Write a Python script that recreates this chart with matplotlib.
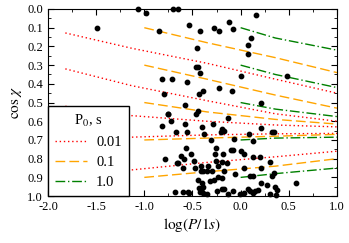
import matplotlib
matplotlib.use("Agg")
import matplotlib.pyplot as plt
from matplotlib.ticker import MultipleLocator

plt.rcParams['font.family'] = ['Liberation Serif', 'DejaVu Serif']
plt.rcParams['mathtext.fontset'] = 'stix'

# evolution tracks, log(P/1s) -> cos chi
red_x = [-1.82, -1.13, -0.35, 0.36, 1.0]
red_y = [[0.128, 0.21, 0.29, 0.375, 0.45],
         [0.32, 0.41, 0.49, 0.56, 0.60],
         [0.52, 0.57, 0.60, 0.62, 0.63],
         [0.70, 0.685, 0.673, 0.667, 0.665],
         [0.89, 0.86, 0.82, 0.79, 0.76]]
orange_x = [-1.0, -0.35, 0.36, 1.0]
orange_y = [[0.10, 0.18, 0.26, 0.34],
            [0.30, 0.375, 0.46, 0.53],
            [0.50, 0.55, 0.59, 0.615],
            [0.70, 0.69, 0.68, 0.67],
            [0.90, 0.87, 0.84, 0.80]]
green_x = [0.0, 0.36, 1.0]
green_y = [[0.10, 0.155, 0.22],
           [0.30, 0.35, 0.42],
           [0.50, 0.535, 0.575],
           [0.70, 0.69, 0.685],
           [0.90, 0.88, 0.85]]

# observed pulsars
logP = [-1.065, -0.98, -1.49, -0.70, -0.85, -0.82, -0.80, -0.75, -0.65, -0.535,
        -0.42, -0.45, -0.46, -0.44, -0.42, -0.71, -0.56, -0.43, -0.39, -0.28,
        -0.22, -0.12, -0.08, 0.16, 0.11, 0.08, 0.08, 0.0, 0.48, -0.22,
        -0.09, 0.21, -0.58, -0.44, -0.46, -0.13, -0.75, -0.72, -0.82, -0.58,
        -0.40, -0.67, -0.56, -0.38, -0.57, -0.62, -0.59, -0.515, -0.785, -0.66,
        -0.60, -0.48, -0.41, -0.47, -0.41, -0.44, -0.43, -0.40, -0.42, -0.60,
        -0.55, -0.535, -0.39, -0.29, -0.19, -0.17, -0.20, 0.09, 0.21, 0.35,
        -0.07, 0.13, -0.26, -0.10, -0.08, 0.0, -0.27, -0.18, 0.03, 0.13,
        0.20, -0.26, -0.19, -0.14, -0.34, -0.23, -0.39, -0.35, -0.30, -0.17,
        0.03, 0.21, 0.10, 0.13, -0.23, -0.19, -0.28, -0.32, -0.40, -0.39,
        -0.19, -0.17, -0.25, -0.08, 0.08, 0.10, 0.13, 0.15, 0.18, -0.01,
        0.03, -0.13, -0.35, 0.30, 0.27, 0.21, 0.33, 0.33, 0.305, 0.35,
        0.36, 0.38, 0.37, 0.575, -0.65, -0.68, -0.31, -0.06]
cosX = [0.0, 0.02, 0.10, 0.0, 0.12, 0.375, 0.455, 0.56, 0.0, 0.085,
        0.12, 0.21, 0.31, 0.31, 0.34, 0.375, 0.39, 0.455, 0.44, 0.10,
        0.12, 0.07, 0.105, 0.03, 0.155, 0.19, 0.24, 0.36, 0.36, 0.42,
        0.44, 0.50, 0.515, 0.545, 0.56, 0.585, 0.56, 0.60, 0.625, 0.615,
        0.63, 0.655, 0.655, 0.67, 0.745, 0.785, 0.80, 0.775, 0.80, 0.825,
        0.85, 0.815, 0.84, 0.85, 0.865, 0.915, 0.955, 0.955, 0.98, 0.98,
        0.98, 0.985, 0.985, 0.615, 0.64, 0.65, 0.655, 0.67, 0.635, 0.66,
        0.695, 0.705, 0.745, 0.755, 0.755, 0.76, 0.775, 0.775, 0.775, 0.79,
        0.79, 0.815, 0.82, 0.825, 0.84, 0.84, 0.865, 0.865, 0.865, 0.865,
        0.85, 0.85, 0.89, 0.89, 0.90, 0.905, 0.915, 0.92, 0.93, 0.95,
        0.96, 0.96, 0.975, 0.975, 0.96, 0.975, 0.985, 0.975, 0.97, 0.99,
        0.985, 0.99, 0.99, 0.99, 0.94, 0.93, 0.89, 0.655, 0.82, 0.875,
        0.95, 0.97, 0.995, 0.93, 0.825, 0.98, 0.70, 0.88]

P0_labels = ['0.01', '0.1', '1.0']

fig = plt.figure(figsize=(3.49, 2.43), dpi=100)
ax = fig.add_axes([0.1375, 0.193, 0.828, 0.77])

for i, ys in enumerate(red_y):
    ax.plot(red_x, ys, color='red', linestyle=(0, (1, 2)), linewidth=1,
            label=P0_labels[0] if i == 0 else None)
for i, ys in enumerate(orange_y):
    ax.plot(orange_x, ys, color='orange', linestyle=(0, (7, 3)), linewidth=1,
            label=P0_labels[1] if i == 0 else None)
for i, ys in enumerate(green_y):
    ax.plot(green_x, ys, color='green', linestyle=(0, (7, 2, 1, 2)), linewidth=1,
            label=P0_labels[2] if i == 0 else None)

ax.scatter(logP, cosX, s=10, color='black', zorder=3, clip_on=False)

ax.set_xlim(-2.0, 1.0)
ax.set_ylim(1.0, 0.0)
ax.xaxis.set_major_locator(MultipleLocator(0.5))
ax.xaxis.set_minor_locator(MultipleLocator(0.25))
ax.yaxis.set_major_locator(MultipleLocator(0.1))
ax.yaxis.set_minor_locator(MultipleLocator(0.05))
ax.xaxis.set_major_formatter(plt.FormatStrFormatter('%.1f'))
ax.yaxis.set_major_formatter(plt.FormatStrFormatter('%.1f'))
ax.tick_params(which='both', direction='in', top=True, right=True, labelsize=9)
ax.tick_params(which='major', length=4)
ax.tick_params(which='minor', length=2)
ax.set_xlabel(r'$\log(P/1s)$', fontsize=11, labelpad=2)
ax.set_ylabel(r'$\cos\,\chi$', fontsize=11, labelpad=2)

leg = ax.legend(title=r'P$_0$, s', loc='lower left', bbox_to_anchor=(0, 0),
                fontsize=10.5, title_fontsize=10.5, fancybox=False, framealpha=1,
                edgecolor='black', handlelength=2.2, handletextpad=0.6,
                borderaxespad=0, labelspacing=0.45, borderpad=0.5)
leg.get_frame().set_linewidth(1)

fig.savefig('out.png', dpi=100)
